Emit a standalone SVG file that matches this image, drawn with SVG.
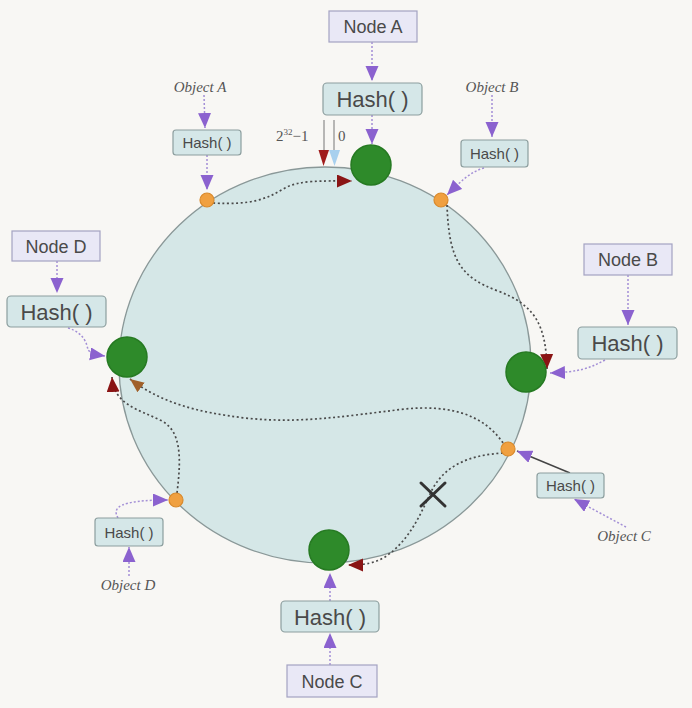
<svg xmlns="http://www.w3.org/2000/svg" width="692" height="708" viewBox="0 0 692 708">
<style>
.nodebox{fill:#e9e8f6;stroke:#a4a2c2;stroke-width:1.2}
.hashbox{fill:#d5e7e8;stroke:#8c9e9e;stroke-width:1.2}
.lbl{font-family:"Liberation Sans",Arial,sans-serif;fill:#4a4a4a;text-anchor:middle}
.obj{font-family:"Liberation Serif","Times New Roman",serif;font-style:italic;fill:#555;font-size:15px;text-anchor:middle}
.num{font-family:"Liberation Serif","Times New Roman",serif;fill:#555;font-size:15px}
.pur{fill:none;stroke:#a38fd6;stroke-width:1.5;stroke-dasharray:2 2}
.dot{fill:none;stroke:#4a4a4a;stroke-width:1.7;stroke-dasharray:2 2.6}
.green{fill:#2e8a2a;stroke:#267a22;stroke-width:1.5}
.orange{fill:#f0a040;stroke:#d98a2c;stroke-width:1.2}
</style>
<defs>
<marker id="mp" markerUnits="userSpaceOnUse" markerWidth="16" markerHeight="14" refX="15" refY="6.5" orient="auto"><path d="M0,0 L15,6.5 L0,13 z" fill="#8b62cf"/></marker>
<marker id="mr" markerUnits="userSpaceOnUse" markerWidth="16" markerHeight="14" refX="15" refY="6.5" orient="auto"><path d="M0,0 L15,6.5 L0,13 z" fill="#8a1414"/></marker>
<marker id="mb" markerUnits="userSpaceOnUse" markerWidth="16" markerHeight="14" refX="14" refY="6" orient="auto"><path d="M0,0 L14,6 L0,12 z" fill="#a0602a"/></marker>
</defs>
<rect width="692" height="708" fill="#f8f7f4"/>
<ellipse id="ring" cx="325" cy="365" rx="206" ry="198" fill="#d5e7e7" stroke="#8a9898" stroke-width="1.3"/>

<g id="connectors">
<line class="pur" x1="372" y1="42" x2="372" y2="81" marker-end="url(#mp)"/>
<line class="pur" x1="372" y1="115" x2="372" y2="144" marker-end="url(#mp)"/>
<line class="pur" x1="204" y1="95" x2="205" y2="128" marker-end="url(#mp)"/>
<line class="pur" x1="207" y1="155" x2="207" y2="190" marker-end="url(#mp)"/>
<line class="pur" x1="492" y1="95" x2="492" y2="137" marker-end="url(#mp)"/>
<path class="pur" d="M484,168 C470,172 460,182 447,195" marker-end="url(#mp)"/>
<line class="pur" x1="57" y1="261" x2="57" y2="293" marker-end="url(#mp)"/>
<path class="pur" d="M68,328 C85,333 87,345 88,350 C92,354 98,355 105,356" marker-end="url(#mp)"/>
<line class="pur" x1="628" y1="275" x2="628" y2="325" marker-end="url(#mp)"/>
<path class="pur" d="M605,360 C590,368 580,372 550,373" marker-end="url(#mp)"/>
<line x1="570" y1="473" x2="517" y2="451" stroke="#444" stroke-width="1.4" marker-end="url(#mp)"/>
<line class="pur" x1="626" y1="527" x2="574" y2="499" marker-end="url(#mp)"/>
<line class="pur" x1="129" y1="576" x2="129" y2="547" marker-end="url(#mp)"/>
<path class="pur" d="M118,518 C112,508 118,500 168,500" marker-end="url(#mp)"/>
<line class="pur" x1="330" y1="665" x2="330" y2="633" marker-end="url(#mp)"/>
<line class="pur" x1="330" y1="601" x2="330" y2="573" marker-end="url(#mp)"/>

<path class="dot" d="M213,203 C250,205 265,200 285,188 C300,180 320,181 352,181" marker-end="url(#mr)"/>
<path class="dot" d="M447,205 C449,260 460,277 498,291 C535,305 546,325 547,369" marker-end="url(#mr)"/>
<path class="dot" d="M503,453 C470,455 445,465 432,490 C420,515 410,540 385,557 C375,563 365,565 348,565" marker-end="url(#mr)"/>
<path class="dot" d="M177,493 C181,460 182,432 162,421 C138,409 114,405 112,377" marker-end="url(#mr)"/>
<path class="dot" d="M503,443 C482,412 445,405 405,409 C345,416 300,424 245,418 C195,412 160,402 130,379" marker-end="url(#mb)"/>

<line x1="324" y1="120" x2="324" y2="151" stroke="#777" stroke-width="1"/>
<line x1="334" y1="120" x2="334" y2="151" stroke="#777" stroke-width="1"/>
<polygon points="318.5,150 329,150 323.5,166" fill="#a01c1c"/>
<polygon points="329,150 340,150 334.5,166" fill="#a8d0ee"/>
</g>

<g id="x-mark" stroke="#333" stroke-width="3" stroke-linecap="round">
<line x1="421" y1="483" x2="445" y2="506"/>
<line x1="445" y1="483" x2="421" y2="506"/>
</g>

<text class="num" x="276" y="141">2<tspan font-size="9" dy="-6">32</tspan><tspan dy="6">−1</tspan></text>
<text class="num" x="338" y="141">0</text>

<g id="nodeA"><rect class="nodebox" x="329" y="11" width="88" height="31"/><text class="lbl" x="373" y="33" font-size="18">Node A</text></g>
<g id="hashA"><rect class="hashbox" x="323" y="83" width="99" height="32" rx="4"/><text class="lbl" x="372.5" y="107" font-size="22">Hash( )</text></g>
<g id="nodeB"><rect class="nodebox" x="584" y="244" width="88" height="31"/><text class="lbl" x="628" y="266" font-size="18">Node B</text></g>
<g id="hashB"><rect class="hashbox" x="578" y="327" width="99" height="32" rx="4"/><text class="lbl" x="627.5" y="351" font-size="22">Hash( )</text></g>
<g id="nodeC"><rect class="nodebox" x="287" y="665" width="90" height="32"/><text class="lbl" x="332" y="688" font-size="18">Node C</text></g>
<g id="hashC"><rect class="hashbox" x="281" y="601" width="98" height="31" rx="4"/><text class="lbl" x="330" y="625" font-size="22">Hash( )</text></g>
<g id="nodeD"><rect class="nodebox" x="12" y="231" width="88" height="30"/><text class="lbl" x="56" y="253" font-size="18">Node D</text></g>
<g id="hashD"><rect class="hashbox" x="7" y="296" width="99" height="31" rx="4"/><text class="lbl" x="56.5" y="320" font-size="22">Hash( )</text></g>

<g id="objA"><text class="obj" x="200" y="92">Object A</text></g>
<g id="hashObjA"><rect class="hashbox" x="173" y="130" width="68" height="25" rx="3"/><text class="lbl" x="207" y="148" font-size="15">Hash( )</text></g>
<g id="objB"><text class="obj" x="492" y="92">Object B</text></g>
<g id="hashObjB"><rect class="hashbox" x="461" y="140" width="67" height="27" rx="3"/><text class="lbl" x="494.5" y="159" font-size="15">Hash( )</text></g>
<g id="objC"><text class="obj" x="624" y="541">Object C</text></g>
<g id="hashObjC"><rect class="hashbox" x="537" y="473" width="67" height="25" rx="3"/><text class="lbl" x="570.5" y="491" font-size="15">Hash( )</text></g>
<g id="objD"><text class="obj" x="128" y="590">Object D</text></g>
<g id="hashObjD"><rect class="hashbox" x="95" y="518" width="68" height="28" rx="3"/><text class="lbl" x="129" y="538" font-size="15">Hash( )</text></g>

<g id="serverA"><circle class="green" cx="371" cy="165" r="20"/></g>
<g id="serverB"><circle class="green" cx="526" cy="372" r="20"/></g>
<g id="serverC"><circle class="green" cx="329" cy="550" r="20"/></g>
<g id="serverD"><circle class="green" cx="127" cy="357" r="20"/></g>

<g id="pointA"><circle class="orange" cx="207" cy="200" r="7"/></g>
<g id="pointB"><circle class="orange" cx="441" cy="200" r="7"/></g>
<g id="pointC"><circle class="orange" cx="508" cy="449" r="7"/></g>
<g id="pointD"><circle class="orange" cx="176" cy="500" r="7"/></g>
</svg>
